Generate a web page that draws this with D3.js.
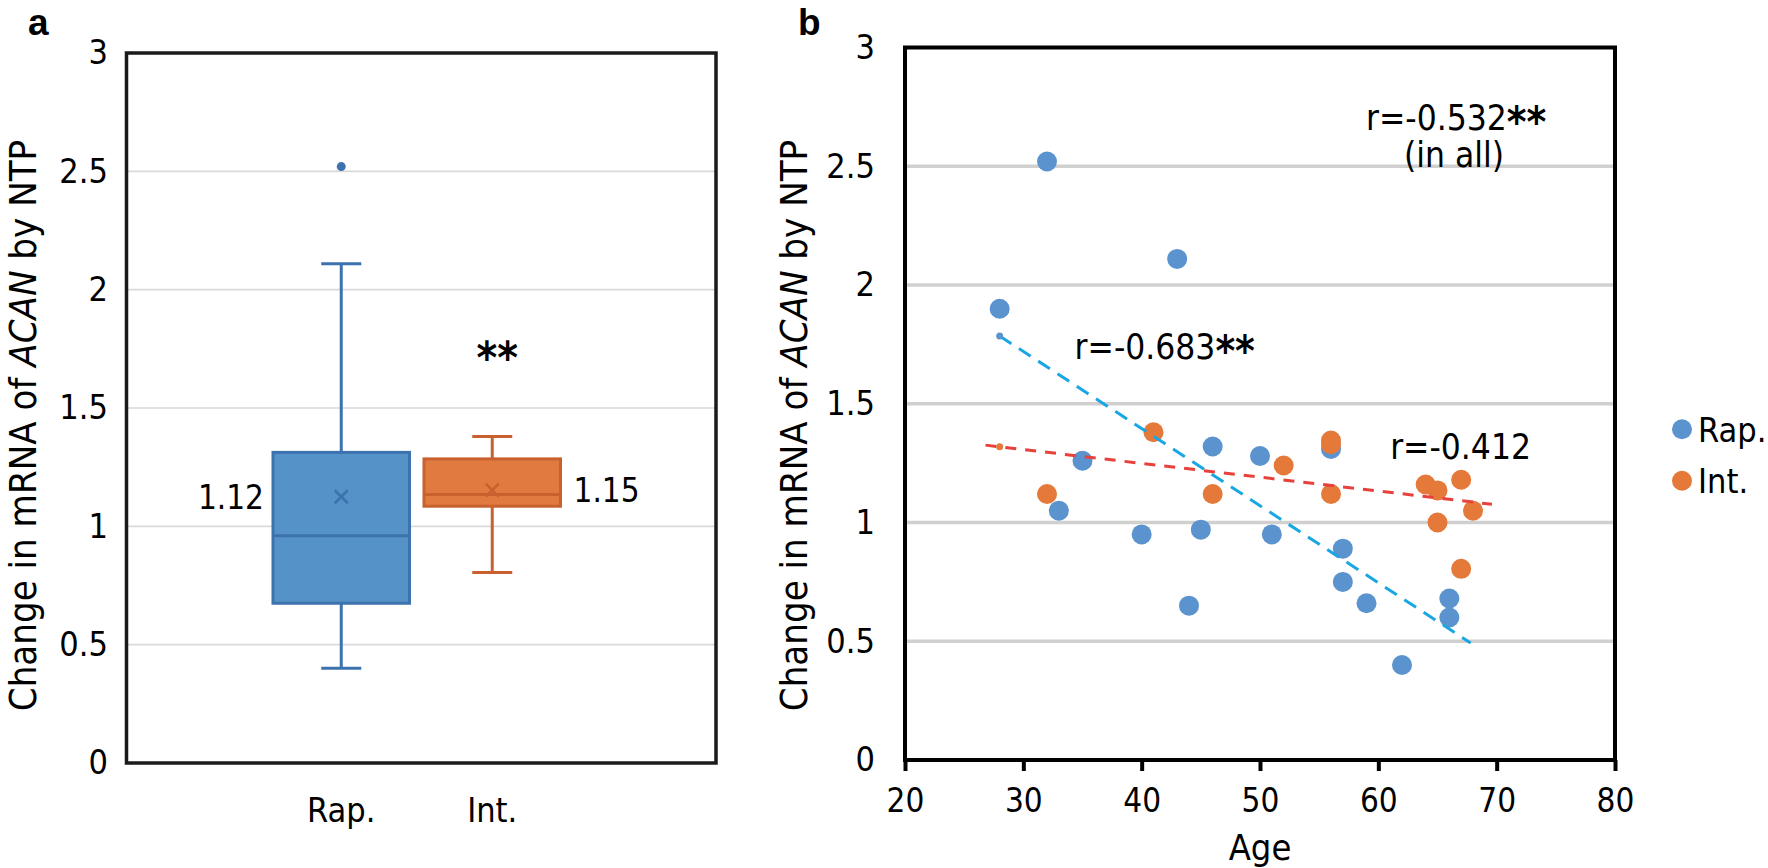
<!DOCTYPE html>
<html>
<head>
<meta charset="utf-8">
<script src="https://cdn.jsdelivr.net/npm/d3@7/dist/d3.min.js"></script>
<style>
  body { margin: 0; background: #fff; }
  text { font-family: "DejaVu Sans Condensed", "DejaVu Sans", sans-serif; font-stretch: condensed; fill: #000; }
</style>
</head>
<body>
<svg id="chart" width="1768" height="868"></svg>
<script>
// values
const groups = ["Rap.", "Int."]
const rapAge = [28, 32, 43, 35, 33, 40, 45, 46, 50, 51, 44, 56, 57, 57, 59, 62, 66, 66]
const rapValue = [1.90, 2.52, 2.11, 1.26, 1.05, 0.95, 0.97, 1.32, 1.28, 0.95, 0.65, 1.31, 0.89, 0.75, 0.66, 0.40, 0.68, 0.60]
const intAge = [41, 32, 46, 52, 56, 56, 56, 64, 65, 67, 68, 65, 67]
const intValue = [1.38, 1.12, 1.12, 1.24, 1.345, 1.33, 1.12, 1.16, 1.135, 1.18, 1.05, 1.00, 0.805]
const meanLabels = ["1.12", "1.15"]
const yTicks = [0, 0.5, 1, 1.5, 2, 2.5, 3]
const ageTicks = [20, 30, 40, 50, 60, 70, 80]
const rapTrendAges = [28, 67.8]
const intTrendAges = [26.8, 69.6]

const blue = "#5A93CE", blueDark = "#3C72AE", blueBox = "#5592C8"
const orange = "#E5793A", orangeDark = "#C8612D", orangeBox = "#E07A40"

const svg = d3.select("#chart")

// excel style (exclusive) quartile
function quartileExc(sorted, p) {
    let n = sorted.length
    let h = (n + 1) * p
    let lo = Math.floor(h)
    if (lo < 1) return sorted[0]
    if (lo >= n) return sorted[n - 1]
    return sorted[lo - 1] + (h - lo) * (sorted[lo] - sorted[lo - 1])
}

function boxStats(values) {
    let s = values.slice().sort((a, b) => a - b)
    let q1 = quartileExc(s, 0.25), q3 = quartileExc(s, 0.75)
    let med = quartileExc(s, 0.5)
    let iqr = q3 - q1
    let inside = s.filter(v => v >= q1 - 1.5 * iqr && v <= q3 + 1.5 * iqr)
    return {
        q1: q1, q3: q3, med: med, mean: d3.mean(s),
        lo: d3.min(inside), hi: d3.max(inside),
        outliers: s.filter(v => v < q1 - 1.5 * iqr || v > q3 + 1.5 * iqr)
    }
}

function regression(xs, ys) {
    let mx = d3.mean(xs), my = d3.mean(ys)
    let sxy = d3.sum(xs, (x, i) => (x - mx) * (ys[i] - my))
    let sxx = d3.sum(xs, x => (x - mx) * (x - mx))
    let slope = sxy / sxx
    return x => my + slope * (x - mx)
}

// ---------- panel a ----------
const yA = d3.scaleLinear().domain([0, 3]).range([763, 53])
const xA = d3.scaleBand().domain(groups).range([273, 560.5]).paddingInner(0.096)
const plotA = { left: 126.5, right: 716 }

svg.append("g").selectAll("line")
    .data(yTicks.slice(1, -1))
    .enter().append("line")
    .attr("x1", plotA.left).attr("x2", plotA.right)
    .attr("y1", d => yA(d)).attr("y2", d => yA(d))
    .attr("stroke", "#d9d9d9").attr("stroke-width", 1.6)

const axisA = svg.append("g")
    .attr("transform", "translate(" + plotA.left + ",0)")
    .call(d3.axisLeft(yA).tickValues(yTicks).tickSize(0).tickPadding(18.5).tickFormat(d => String(d)))
axisA.select(".domain").remove()
axisA.selectAll("text").style("font-size", "34px").style("font-family", null)

const boxData = [
    { name: "Rap.", stats: boxStats(rapValue), fill: blueBox, line: blueDark, label: meanLabels[0] },
    { name: "Int.", stats: boxStats(intValue), fill: orangeBox, line: orangeDark, label: meanLabels[1] }
]

boxData.forEach(function(b, i) {
    let g = svg.append("g")
    let x0 = xA(b.name), w = xA.bandwidth(), cx = x0 + w / 2
    let s = b.stats
    // whiskers
    g.append("line").attr("x1", cx).attr("x2", cx).attr("y1", yA(s.hi)).attr("y2", yA(s.q3))
        .attr("stroke", b.line).attr("stroke-width", 3)
    g.append("line").attr("x1", cx).attr("x2", cx).attr("y1", yA(s.q1)).attr("y2", yA(s.lo))
        .attr("stroke", b.line).attr("stroke-width", 3)
    g.selectAll(".cap").data([s.hi, s.lo]).enter().append("line")
        .attr("x1", cx - 20).attr("x2", cx + 20)
        .attr("y1", d => yA(d)).attr("y2", d => yA(d))
        .attr("stroke", b.line).attr("stroke-width", 3)
    // box
    g.append("rect").attr("x", x0).attr("width", w)
        .attr("y", yA(s.q3)).attr("height", yA(s.q1) - yA(s.q3))
        .attr("fill", b.fill).attr("stroke", b.line).attr("stroke-width", 3)
    g.append("line").attr("x1", x0).attr("x2", x0 + w).attr("y1", yA(s.med)).attr("y2", yA(s.med))
        .attr("stroke", b.line).attr("stroke-width", 3)
    // mean cross
    let my = yA(s.mean), k = 6.5
    g.append("path")
        .attr("d", "M" + (cx - k) + "," + (my - k) + "L" + (cx + k) + "," + (my + k) +
            "M" + (cx - k) + "," + (my + k) + "L" + (cx + k) + "," + (my - k))
        .attr("stroke", b.line).attr("stroke-width", 2.5)
    g.selectAll(".out").data(s.outliers).enter().append("circle")
        .attr("cx", cx).attr("cy", d => yA(d)).attr("r", 4.5).attr("fill", b.line)
    // mean label
    g.append("text")
        .attr("x", i == 0 ? x0 - 9 : x0 + w + 13)
        .attr("y", my).attr("dy", "0.36em")
        .attr("text-anchor", i == 0 ? "end" : "start")
        .style("font-size", "33px")
        .text(b.label)
    // category label
    g.append("text").attr("x", cx).attr("y", 822)
        .attr("text-anchor", "middle").style("font-size", "34px")
        .text(b.name)
})

svg.append("text")
    .attr("x", xA("Int.") + xA.bandwidth() / 2 + 5).attr("y", yA(1.75) + 24)
    .attr("text-anchor", "middle").style("font-size", "44px").style("font-weight", "bold")
    .style("font-stretch", "normal")
    .text("**")

svg.append("rect")
    .attr("x", plotA.left).attr("y", yA(3))
    .attr("width", plotA.right - plotA.left).attr("height", yA(0) - yA(3))
    .attr("fill", "none").attr("stroke", "#1a1a1a").attr("stroke-width", 3.5)

// ---------- panel b ----------
const xB = d3.scaleLinear().domain([20, 80]).range([905, 1615])
const yB = d3.scaleLinear().domain([0, 3]).range([760, 47.5])

svg.append("g").selectAll("line")
    .data(yTicks.slice(1, -1))
    .enter().append("line")
    .attr("x1", xB(20)).attr("x2", xB(80))
    .attr("y1", d => yB(d)).attr("y2", d => yB(d))
    .attr("stroke", "#d0d0d0").attr("stroke-width", 3.5)

const axisBy = svg.append("g")
    .attr("transform", "translate(" + xB(20) + ",0)")
    .call(d3.axisLeft(yB).tickValues(yTicks).tickSize(0).tickPadding(30).tickFormat(d => String(d)))
axisBy.select(".domain").remove()
axisBy.selectAll("text").style("font-size", "34px")

const axisBx = svg.append("g")
    .attr("transform", "translate(0," + yB(0) + ")")
    .call(d3.axisBottom(xB).tickValues(ageTicks).tickSize(11).tickPadding(18))
axisBx.select(".domain").remove()
axisBx.selectAll("line").attr("stroke", "#000").attr("stroke-width", 4)
axisBx.selectAll("text").style("font-size", "33px")

const points = []
rapAge.forEach((a, i) => points.push({ age: a, value: rapValue[i], color: blue }))
intAge.forEach((a, i) => points.push({ age: a, value: intValue[i], color: orange }))

svg.append("g").selectAll("circle")
    .data(points)
    .enter().append("circle")
    .attr("cx", d => xB(d.age)).attr("cy", d => yB(d.value))
    .attr("r", 10).attr("fill", d => d.color)

const trends = [
    { fit: regression(rapAge, rapValue), ages: rapTrendAges, color: "#1AA6E2", dot: blue, dash: "14,9" },
    { fit: regression(intAge, intValue), ages: intTrendAges, color: "#E8403A", dot: orange, dash: "11,9" }
]
trends.forEach(function(t) {
    svg.append("line")
        .attr("x1", xB(t.ages[0])).attr("y1", yB(t.fit(t.ages[0])))
        .attr("x2", xB(t.ages[1])).attr("y2", yB(t.fit(t.ages[1])))
        .attr("stroke", t.color).attr("stroke-width", 3).attr("stroke-dasharray", t.dash)
    svg.append("circle").attr("cx", xB(28)).attr("cy", yB(t.fit(28))).attr("r", 3.5).attr("fill", t.dot)
})

svg.append("rect")
    .attr("x", xB(20)).attr("y", yB(3))
    .attr("width", xB(80) - xB(20)).attr("height", yB(0) - yB(3))
    .attr("fill", "none").attr("stroke", "#000").attr("stroke-width", 4)

// correlation notes
const notes = [
    { text: "r=-0.532", stars: "**", age: 58.96, value: 2.653 },
    { text: "r=-0.683", stars: "**", age: 34.33, value: 1.69 },
    { text: "r=-0.412", stars: "", age: 61.0, value: 1.267 }
]
notes.forEach(function(n) {
    let t = svg.append("text").attr("x", xB(n.age)).attr("y", yB(n.value)).style("font-size", "35px")
    t.append("tspan").text(n.text)
    if (n.stars) t.append("tspan").attr("dy", 7).style("font-size", "42px").style("font-weight", "bold")
        .style("font-stretch", "normal").text(n.stars)
})
svg.append("text").attr("x", xB(66.4)).attr("y", yB(2.497))
    .attr("text-anchor", "middle").style("font-size", "35px").text("(in all)")

svg.append("text")
    .attr("x", (xB(20) + xB(80)) / 2).attr("y", 860)
    .attr("text-anchor", "middle").style("font-size", "36px").text("Age")

// legend
const legend = svg.append("g").selectAll("g")
    .data([{ name: "Rap.", color: blue }, { name: "Int.", color: orange }])
    .enter().append("g")
    .attr("transform", (d, i) => "translate(1682," + (429.3 + i * 51.4) + ")")
legend.append("circle").attr("r", 10).attr("fill", d => d.color)
legend.append("text").attr("x", 16).attr("dy", "0.36em").style("font-size", "34px").text(d => d.name)

// y titles
function yTitle(x) {
    let t = svg.append("text")
        .attr("transform", "translate(" + x + ",425.5) rotate(-90)")
        .attr("text-anchor", "middle").style("font-size", "38px")
    t.append("tspan").text("Change in mRNA of ")
    t.append("tspan").style("font-style", "italic").text("ACAN")
    t.append("tspan").text(" by NTP")
}
yTitle(36)
yTitle(807)

// panel letters
svg.append("text").attr("x", 28).attr("y", 35)
    .style("font-family", "'Liberation Sans', Arial, sans-serif").style("font-weight", "bold")
    .style("font-size", "37px").style("font-stretch", "normal").text("a")
svg.append("text").attr("x", 798).attr("y", 35)
    .style("font-family", "'Liberation Sans', Arial, sans-serif").style("font-weight", "bold")
    .style("font-size", "37px").style("font-stretch", "normal").text("b")
</script>
</body>
</html>
